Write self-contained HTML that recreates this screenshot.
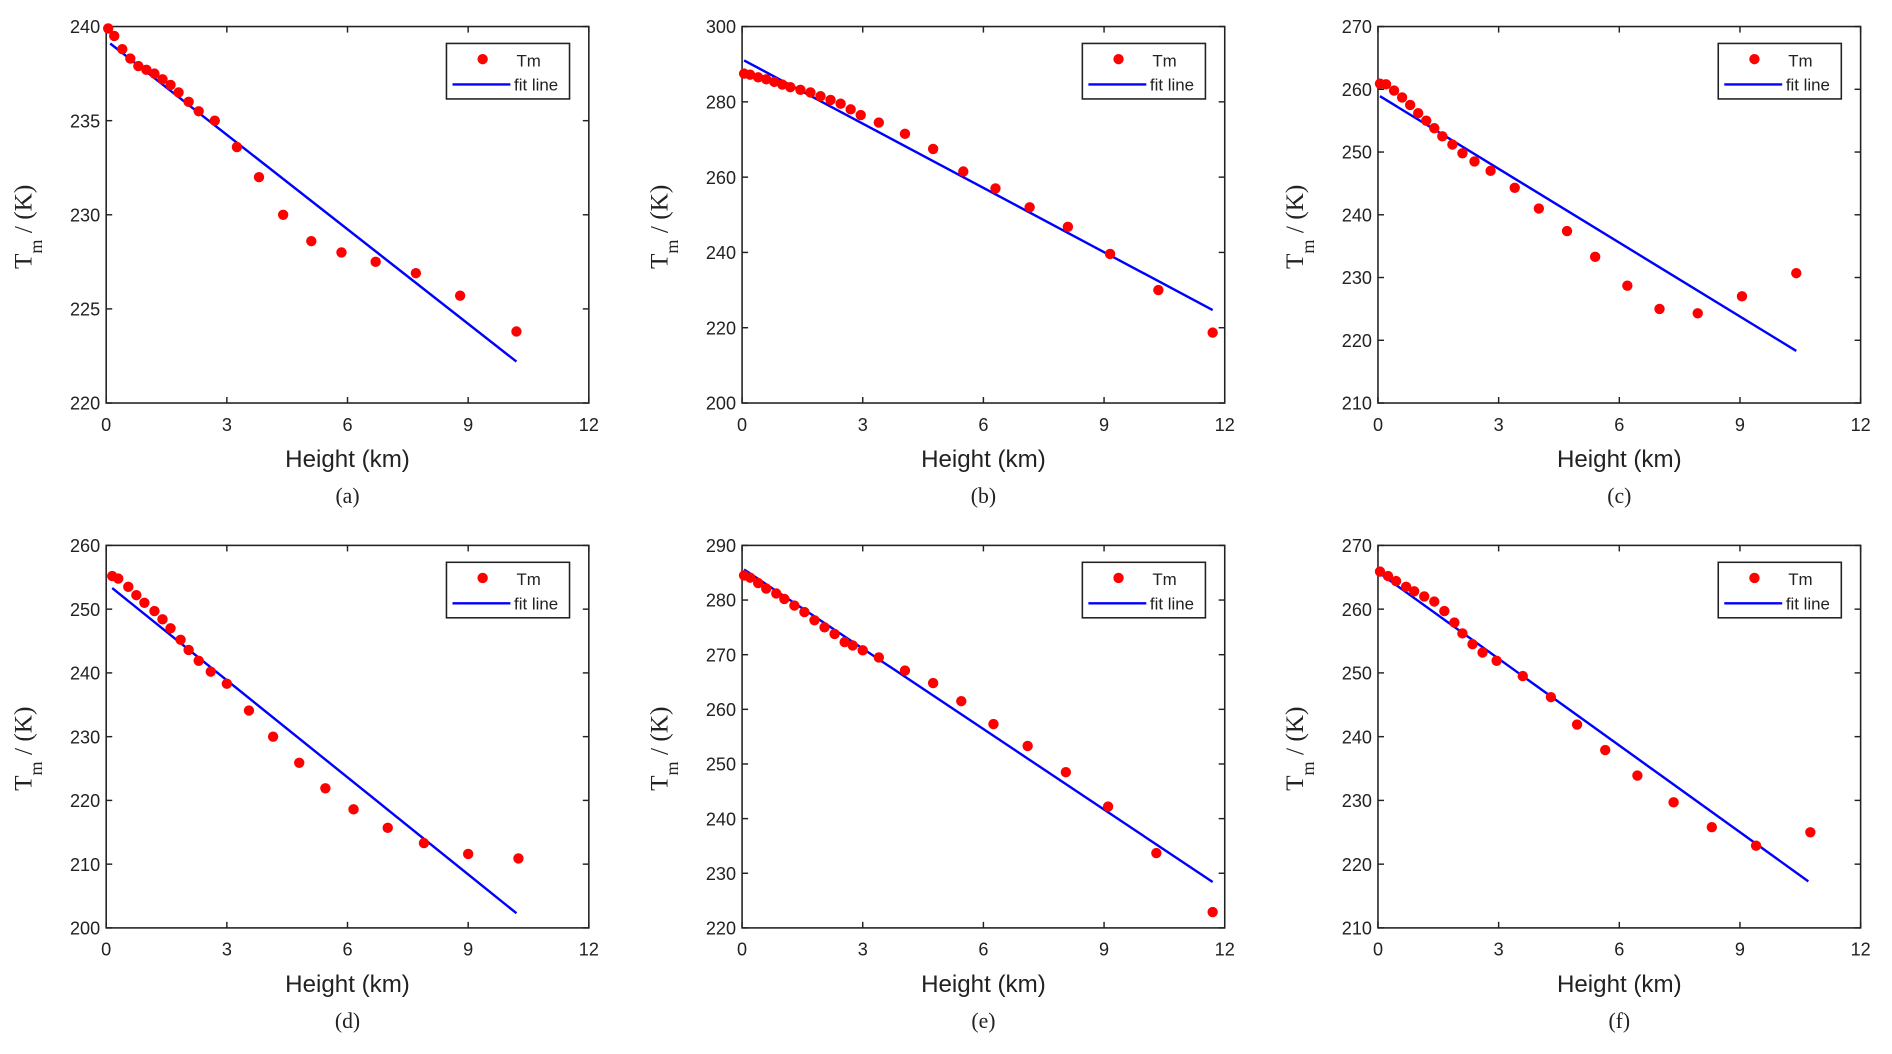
<!DOCTYPE html>
<html><head><meta charset="utf-8"><style>
html,body{margin:0;padding:0;background:#fff;}
svg{display:block;}
</style></head><body>
<svg id="fig" width="1892" height="1054" viewBox="0 0 1568 873.5" xmlns="http://www.w3.org/2000/svg"></svg>
<script>
const xTicks=[0,3,6,9,12];
const aX=[0.05,0.2,0.4,0.6,0.8,1.0,1.2,1.4,1.6,1.8,2.05,2.3,2.7,3.25,3.8,4.4,5.1,5.85,6.7,7.7,8.8,10.2];
const aY=[239.9,239.5,238.8,238.3,237.9,237.7,237.5,237.2,236.9,236.5,236.0,235.5,235.0,233.6,232.0,230.0,228.6,228.0,227.5,226.9,225.7,223.8];
const aFitX=[0.1,10.2]; const aFitY=[239.1,222.2];
const aYTicks=[220,225,230,235,240];
const bX=[0.05,0.2,0.4,0.6,0.8,1.0,1.2,1.45,1.7,1.95,2.2,2.45,2.7,2.95,3.4,4.05,4.75,5.5,6.3,7.15,8.1,9.15,10.35,11.7];
const bY=[287.5,287.2,286.5,286,285.3,284.6,283.9,283.2,282.5,281.5,280.5,279.5,278,276.5,274.5,271.5,267.5,261.5,257,252,246.8,239.6,230,218.7];
const bFitX=[0.05,11.7]; const bFitY=[291,224.7];
const bYTicks=[200,220,240,260,280,300];
const cX=[0.05,0.2,0.4,0.6,0.8,1.0,1.2,1.4,1.6,1.85,2.1,2.4,2.8,3.4,4.0,4.7,5.4,6.2,7.0,7.95,9.05,10.4];
const cY=[260.9,260.8,259.8,258.7,257.5,256.2,255,253.8,252.5,251.2,249.8,248.5,247,244.3,241,237.4,233.3,228.7,225,224.3,227,230.7];
const cFitX=[0.05,10.4]; const cFitY=[258.9,218.3];
const cYTicks=[210,220,230,240,250,260,270];
const dX=[0.15,0.3,0.55,0.75,0.95,1.2,1.4,1.6,1.85,2.05,2.3,2.6,3.0,3.55,4.15,4.8,5.45,6.15,7.0,7.9,9.0,10.25];
const dY=[255.2,254.8,253.5,252.2,251,249.7,248.4,247,245.2,243.6,241.9,240.2,238.3,234.1,230,225.9,221.9,218.6,215.7,213.3,211.6,210.9];
const dFitX=[0.15,10.2]; const dFitY=[253.3,202.3];
const dYTicks=[200,210,220,230,240,250,260];
const eX=[0.05,0.2,0.4,0.6,0.85,1.05,1.3,1.55,1.8,2.05,2.3,2.55,2.75,3.0,3.4,4.05,4.75,5.45,6.25,7.1,8.05,9.1,10.3,11.7];
const eY=[284.5,284.1,283.1,282.1,281.2,280.2,279,277.8,276.3,275,273.8,272.3,271.7,270.8,269.5,267.1,264.8,261.5,257.3,253.3,248.5,242.2,233.7,222.9];
const eFitX=[0.05,11.7]; const eFitY=[285.6,228.4];
const eYTicks=[220,230,240,250,260,270,280,290];
const fX=[0.05,0.25,0.45,0.7,0.9,1.15,1.4,1.65,1.9,2.1,2.35,2.6,2.95,3.6,4.3,4.95,5.65,6.45,7.35,8.3,9.4,10.75];
const fY=[265.9,265.2,264.4,263.5,262.8,262,261.2,259.7,257.9,256.2,254.5,253.2,251.9,249.5,246.2,241.9,237.9,233.9,229.7,225.8,222.9,225];
const fFitX=[0.05,10.7]; const fFitY=[265.6,217.3];
const fYTicks=[210,220,230,240,250,260,270];
const panelLabels=['(a)','(b)','(c)','(d)','(e)','(f)'];

const NS='http://www.w3.org/2000/svg';
const svg=document.getElementById('fig');
function mk(tag,attrs,parent,text){const e=document.createElementNS(NS,tag);for(const k in attrs)e.setAttribute(k,attrs[k]);if(text!==undefined)e.textContent=text;(parent||svg).appendChild(e);return e;}

const panels=[
 {L:88,T:22,B:334,xs:aX,ys:aY,fx:aFitX,fy:aFitY,yt:aYTicks},
 {L:615,T:22,B:334,xs:bX,ys:bY,fx:bFitX,fy:bFitY,yt:bYTicks},
 {L:1142,T:22,B:334,xs:cX,ys:cY,fx:cFitX,fy:cFitY,yt:cYTicks},
 {L:88,T:452,B:769,xs:dX,ys:dY,fx:dFitX,fy:dFitY,yt:dYTicks},
 {L:615,T:452,B:769,xs:eX,ys:eY,fx:eFitX,fy:eFitY,yt:eYTicks},
 {L:1142,T:452,B:769,xs:fX,ys:fY,fx:fFitX,fy:fFitY,yt:fYTicks}
];
panels.forEach((p,i)=>{
 const W=400, R=p.L+W, H=p.B-p.T;
 const g=mk('g',{});
 
 
 const ymin=p.yt[0], ymax=p.yt[p.yt.length-1];
 const sx=v=>p.L+(v-xTicks[0])/(xTicks[xTicks.length-1]-xTicks[0])*W;
 const sy=v=>p.B-(v-ymin)/(ymax-ymin)*H;
 const frame=mk('rect',{x:p.L,y:p.T,width:W,height:H,fill:'#fff',stroke:'#222','stroke-width':1.3},g);
 
 
 xTicks.forEach(t=>{
  const x=sx(t);
  mk('line',{x1:x,y1:p.B,x2:x,y2:p.B-5,stroke:'#222','stroke-width':1.2},g);
  mk('line',{x1:x,y1:p.T,x2:x,y2:p.T+5,stroke:'#222','stroke-width':1.2},g);
  const tl=mk('text',{x:x,y:p.B+23,'text-anchor':'middle','font-family':'Liberation Sans, sans-serif','font-size':15,fill:'#222'},g,String(t));
  
  
 });
 p.yt.forEach(t=>{
  const y=sy(t);
  mk('line',{x1:p.L,y1:y,x2:p.L+5,y2:y,stroke:'#222','stroke-width':1.2},g);
  mk('line',{x1:R,y1:y,x2:R-5,y2:y,stroke:'#222','stroke-width':1.2},g);
  const tl=mk('text',{x:p.L-5,y:y+5.5,'text-anchor':'end','font-family':'Liberation Sans, sans-serif','font-size':15,fill:'#222'},g,String(t));
  
  
 });
 const fit=mk('line',{x1:sx(p.fx[0]),y1:sy(p.fy[0]),x2:sx(p.fx[1]),y2:sy(p.fy[1]),stroke:'#0000ff','stroke-width':2},g);
 
 
 p.xs.forEach((v,k)=>{
  const c=mk('circle',{cx:sx(v),cy:sy(p.ys[k]),r:4.3,fill:'#ff0000'},g);
  
  
 });
 // legend
 const lg=mk('g',{},g);
 
 
 const lx=p.L+282, ly=p.T+14;
 mk('rect',{x:lx,y:ly,width:102,height:46,fill:'#fff',stroke:'#222','stroke-width':1.3},lg);
 mk('circle',{cx:lx+30,cy:ly+13,r:4.3,fill:'#ff0000'},lg);
 mk('text',{x:lx+58,y:ly+19,'font-family':'Liberation Sans, sans-serif','font-size':14,fill:'#222'},lg,'Tm');
 mk('line',{x1:lx+5,y1:ly+34,x2:lx+53,y2:ly+34,stroke:'#0000ff','stroke-width':2},lg);
 mk('text',{x:lx+56,y:ly+39,'font-family':'Liberation Sans, sans-serif','font-size':14,fill:'#222'},lg,'fit line');
 // axis titles
 const xt=mk('text',{x:p.L+W/2,y:p.B+53,'text-anchor':'middle','font-family':'Liberation Sans, sans-serif','font-size':20,fill:'#222'},g,'Height (km)');
 
 
 const cy=(p.T+p.B)/2+10;
 const yt=mk('text',{transform:'translate('+(p.L-62)+','+cy+') rotate(-90)','text-anchor':'middle','font-family':'Liberation Serif, serif','font-size':21,fill:'#222'},g);
 
 
 mk('tspan',{},yt,'T');
 mk('tspan',{dy:9,'font-size':15},yt,'m');
 mk('tspan',{dy:-9},yt,' / (K)');
 const pl=mk('text',{x:p.L+W/2-18+18,y:p.B+83,'text-anchor':'middle','font-family':'Liberation Serif, serif','font-size':18,fill:'#222'},g,panelLabels[i]);
 
 
});
</script>
</body></html>
